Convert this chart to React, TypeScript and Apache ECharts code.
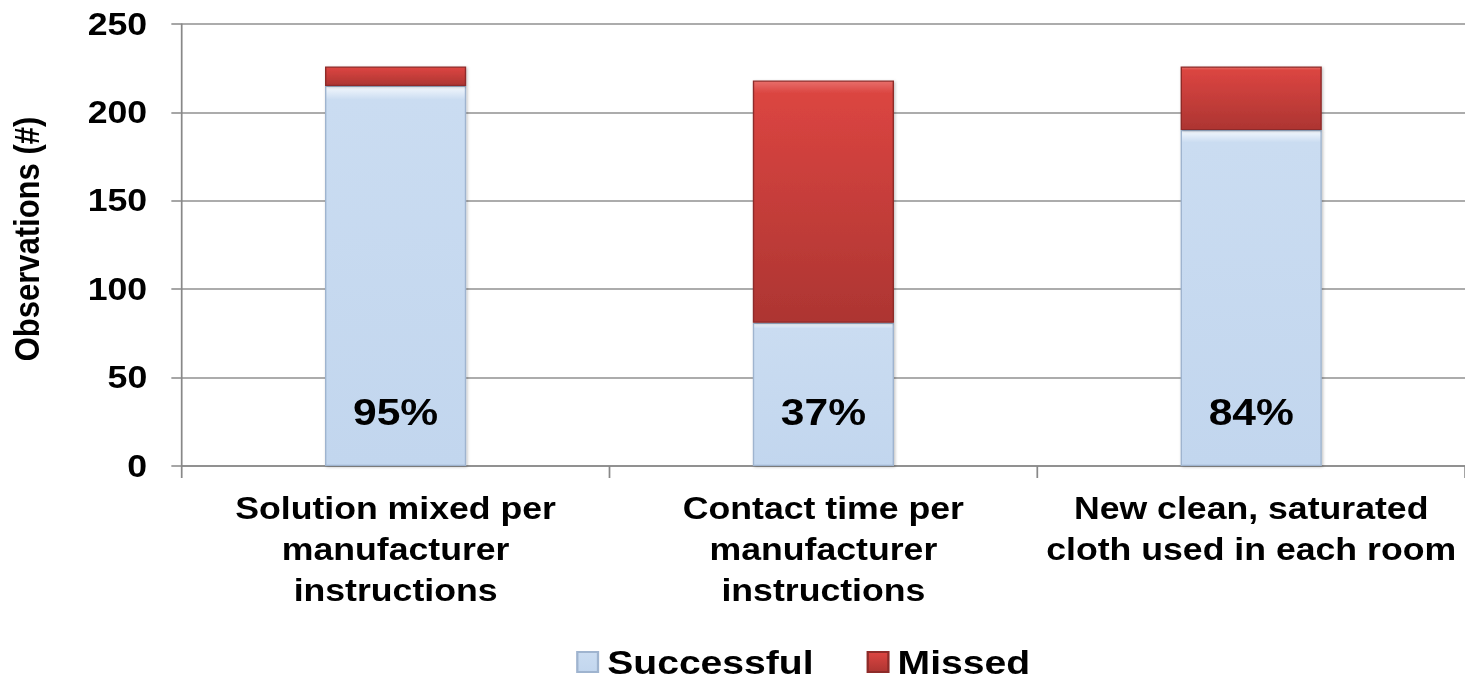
import React, { useEffect, useRef } from "react";
import * as echarts from "echarts";

const categories = [
  "Solution mixed per\nmanufacturer\ninstructions",
  "Contact time per\nmanufacturer\ninstructions",
  "New clean, saturated\ncloth used in each room",
];
const successful = [215, 81, 190];
const missed = [11, 137, 36];
const yMin = 0;
const yMax = 250;
const yInterval = 50;

const FONT = "'Liberation Sans', Arial, Helvetica, sans-serif";
const SCALE_X = 1.15;
const W = 1274;
const H = 686;

export default function App() {
  const ref = useRef<HTMLDivElement>(null);

  useEffect(() => {
    if (!ref.current) return;
    const chart = echarts.init(ref.current, undefined, { renderer: "svg" });

    const pct = successful.map((s, i) => Math.round((s / (s + missed[i])) * 100));

    chart.setOption({
      animation: false,
      backgroundColor: "#ffffff",
      textStyle: { fontFamily: FONT },
      grid: { left: 158, right: 0, top: 24, bottom: 220, containLabel: false },
      legend: {
        left: 496,
        top: 640,
        itemWidth: 18,
        itemHeight: 20,
        itemGap: 46,
        icon: "rect",
        textStyle: {
          fontFamily: FONT,
          fontSize: 34,
          lineHeight: 34,
          fontWeight: "bold",
          color: "#000",
          padding: [0, 0, 0, 3],
        },
        data: ["Successful", "Missed"],
      },
      xAxis: {
        type: "category",
        data: categories,
        boundaryGap: true,
        axisLine: { show: true, lineStyle: { color: "#888888", width: 1.5 } },
        axisTick: { show: true, length: 12, interval: 0, lineStyle: { color: "#888888", width: 1.5 } },
        axisLabel: {
          interval: 0,
          margin: 22,
          fontFamily: FONT,
          fontSize: 31,
          fontWeight: "bold",
          color: "#000",
          lineHeight: 41,
          align: "center",
        },
        splitLine: { show: false },
      },
      yAxis: {
        type: "value",
        min: yMin,
        max: yMax,
        interval: yInterval,
        name: "Observations (#)",
        nameLocation: "middle",
        nameGap: 119,
        nameTextStyle: {
          fontFamily: FONT,
          fontSize: 31,
          fontWeight: "bold",
          color: "#000",
          padding: [0, 0, 0, 12],
        },
        axisLine: { show: true, lineStyle: { color: "#888888", width: 1.5 } },
        axisTick: { show: true, length: 9, lineStyle: { color: "#888888", width: 1.5 } },
        axisLabel: {
          margin: 30,
          fontFamily: FONT,
          fontSize: 31,
          fontWeight: "bold",
          color: "#000",
        },
        splitLine: { show: true, lineStyle: { color: "#919191", width: 1.5 } },
      },
      series: [
        {
          name: "Successful",
          type: "bar",
          stack: "total",
          barWidth: "33%",
          data: successful,
          itemStyle: {
            color: new echarts.graphic.LinearGradient(0, 0, 0, 1, [
              { offset: 0, color: "#f4f8fd" },
              { offset: 0.035, color: "#cadcf1" },
              { offset: 1, color: "#c2d6ee" },
            ]),
            borderColor: "#9fb4cf",
            borderWidth: 1.2,
            shadowColor: "rgba(0,0,0,0.25)",
            shadowBlur: 3,
            shadowOffsetX: 1,
            shadowOffsetY: 1,
          },
          label: {
            show: true,
            position: "insideBottom",
            distance: 36,
            formatter: (p: any) => pct[p.dataIndex] + "%",
            fontFamily: FONT,
            fontSize: 37,
            lineHeight: 37,
            fontWeight: "bold",
            color: "#000",
          },
        },
        {
          name: "Missed",
          type: "bar",
          stack: "total",
          barWidth: "33%",
          data: missed,
          itemStyle: {
            color: new echarts.graphic.LinearGradient(0, 0, 0, 1, [
              { offset: 0, color: "#e86e6a" },
              { offset: 0.05, color: "#db4541" },
              { offset: 1, color: "#ad3532" },
            ]),
            borderColor: "#8e2b29",
            borderWidth: 1.2,
            shadowColor: "rgba(0,0,0,0.25)",
            shadowBlur: 3,
            shadowOffsetX: 1,
            shadowOffsetY: 1,
          },
        },
      ],
    });

    return () => {
      chart.dispose();
    };
  }, []);

  return (
    <div
      ref={ref}
      style={{
        position: "absolute",
        left: 0,
        top: 0,
        width: W,
        height: H,
        transform: `scaleX(${SCALE_X})`,
        transformOrigin: "0 0",
      }}
    />
  );
}
